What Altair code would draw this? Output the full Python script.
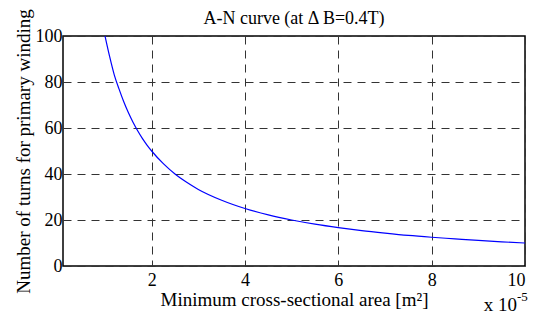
import altair as alt
import pandas as pd

# values (x in units of 1e-5 m^2)
area = [1.0, 1.1, 1.2, 1.3, 1.4, 1.5, 1.6, 1.7, 1.8, 1.9, 2.0, 2.25, 2.5, 2.75,
        3.0, 3.5, 4.0, 4.5, 5.0, 5.5, 6.0, 6.5, 7.0, 7.5, 8.0, 8.5, 9.0, 9.5, 10.0]
turns = [100, 91, 83, 77, 71.5, 66.7, 62.5, 58.8, 55.5, 52.6, 50, 44.5, 40, 36.4,
         33.3, 28.6, 25, 22.2, 20, 18.2, 16.7, 15.4, 14.3, 13.3, 12.5, 11.8, 11.1, 10.5, 10]
x_ticks = [2, 4, 6, 8, 10]
y_ticks = [0, 20, 40, 60, 80, 100]
title_text = ["A-N curve (at Δ B=0.4T)"]

FONT = "Liberation Serif"
W, H = 462, 230

axis_style = dict(
    labelFont=FONT, labelFontSize=18, labelColor="black",
    titleFont=FONT, titleFontSize=19, titleFontWeight="normal", titleColor="black",
    grid=True, gridColor="#333333", gridDash=[8, 6], gridWidth=1,
    domain=False, ticks=False,
)

df = pd.DataFrame({"area": area, "turns": turns})

line = alt.Chart(df).mark_line(color="#0000ff", strokeWidth=1.2, clip=True,
                               interpolate="monotone").encode(
    x=alt.X("area:Q", scale=alt.Scale(domain=[0.1, 10], nice=False, zero=False),
            axis=alt.Axis(values=x_ticks, title="Minimum cross-sectional area [m²]",
                          titleX=W / 2, titleY=39, titleBaseline="alphabetic",
                          labelPadding=5, **axis_style)),
    y=alt.Y("turns:Q", scale=alt.Scale(domain=[0, 100], nice=False),
            axis=alt.Axis(values=y_ticks, title="Number of turns for primary winding",
                          titleX=-34, titleY=H / 2, titleAngle=-90,
                          titleBaseline="alphabetic", titleAlign="center",
                          labelPadding=1, **axis_style)),
)

ttl = alt.Chart(pd.DataFrame({"t": title_text})).mark_text(
    font=FONT, fontSize=18, align="center", baseline="alphabetic", color="black"
).encode(text="t:N", x=alt.value(W / 2), y=alt.value(-12))

mult = alt.Chart(pd.DataFrame({"t": ["x 10"]})).mark_text(
    font=FONT, fontSize=19, align="right", baseline="alphabetic", color="black"
).encode(text="t:N", x=alt.value(454), y=alt.value(275))

expo = alt.Chart(pd.DataFrame({"t": ["-5"]})).mark_text(
    font=FONT, fontSize=13, align="left", baseline="alphabetic", color="black"
).encode(text="t:N", x=alt.value(454), y=alt.value(265))

chart = alt.layer(line, ttl, mult, expo).properties(
    width=W, height=H,
    autosize=alt.AutoSizeParams(type="none"),
    padding={"left": 55, "top": 28, "right": 7, "bottom": 48},
).configure_view(
    stroke="black", strokeWidth=1.5
)

chart.save("out.html", embed_options={"renderer": "svg", "actions": False})
